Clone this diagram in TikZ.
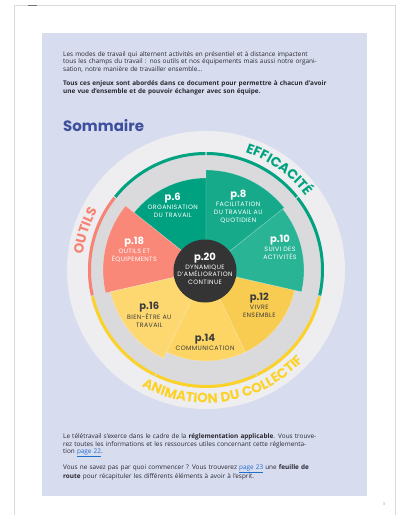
\documentclass[tikz,border=0pt]{standalone}
\usepackage{fontspec}
\setmainfont{Open Sans}
\newfontfamily\wheelfont{Poppins}
\newfontfamily\wheelcaps{Poppins}[LetterSpace=6]
\newfontfamily\ringface{Poppins}[LetterSpace=5]
\usetikzlibrary{positioning,decorations.text}

\definecolor{panelblue}{RGB}{216,220,239}
\definecolor{pageedge}{RGB}{218,218,220}
\definecolor{bodygrey}{RGB}{40,40,48}
\definecolor{linkblue}{RGB}{30,110,205}
\definecolor{titleblue}{RGB}{61,79,157}
\definecolor{outerring}{RGB}{238,238,241}
\definecolor{greydisc}{RGB}{218,218,221}
\definecolor{hubgrey}{RGB}{52,52,52}
\definecolor{labelgrey}{RGB}{60,60,60}
\definecolor{teal1}{RGB}{0,161,129}
\definecolor{teal2}{RGB}{22,170,139}
\definecolor{teal3}{RGB}{42,180,150}
\definecolor{salmon}{RGB}{250,136,121}
\definecolor{yel1}{RGB}{253,216,112}
\definecolor{yel2}{RGB}{252,213,101}
\definecolor{yel3}{RGB}{248,204,80}
\definecolor{ringgreen}{RGB}{0,163,128}
\definecolor{ringsalmon}{RGB}{248,130,115}
\definecolor{ringyellow}{RGB}{252,210,40}

\newcommand\jl[1]{\makebox[\linewidth][s]{#1}\\}
\newcommand\pagelink[1]{\textcolor{linkblue}{\underline{#1}}}
\newcommand\ringfont{\ringface\bfseries\fontsize{13.5}{13.5}\selectfont}

\tikzset{
    body text/.style={
        font=\fontsize{6.4}{7.6}\selectfont,
        text=bodygrey,
        text width=285pt,
        align=left,
        inner sep=0pt,
        anchor=base west,
    },
    wedge/.style={
        draw=white,
        draw opacity=0.35,
        line width=0.4pt,
    },
    ring arc/.style={
        line width=3pt,
    },
    ring text/.style={
        decorate,
        decoration={text along path, text align=center, text={#1}},
    },
    num label/.style={
        font=\wheelfont\bfseries\fontsize{10}{10}\selectfont,
        inner sep=0.5pt,
    },
    sect label/.style={
        font=\wheelcaps\fontsize{6.3}{8}\selectfont,
        align=center,
        inner sep=0.5pt,
    },
    on teal/.style={text=white},
    on yellow/.style={text=labelgrey},
    hub/.style={
        circle,
        fill=hubgrey,
        minimum size=63pt,
        inner sep=0pt,
    },
}

\begin{document}
\begin{tikzpicture}[x=1pt,y=-1pt]
    \useasboundingbox (0,0) rectangle (400,515);
    \fill[white] (0,0) rectangle (400,515);
    % page and panel
    \draw[pageedge,line width=1pt] (14,515) -- (14,5) -- (395,5) -- (395,515);
    \draw[black!55,line width=0.8pt] (28,5) -- (37,5);
    \fill[panelblue] (42,33) rectangle (367,496);
    \node[body text] (intro) at (63,56) {%
        \jl{Les modes de travail qui alternent activités en présentiel et à distance impactent}
        \jl{tous les champs du travail : nos outils et nos équipements mais aussi notre organi-}
        sation, notre manière de travailler ensemble…};
    \node[body text,font=\bfseries\fontsize{6.4}{7.8}\selectfont] (enjeux) at (63,85.5) {%
        \jl{Tous ces enjeux sont abordés dans ce document pour permettre à chacun d’avoir}
        une vue d’ensemble et de pouvoir échanger avec son équipe.};
    \node[anchor=base west,inner sep=0pt,text=titleblue,
        font=\wheelfont\bfseries\fontsize{15}{15}\selectfont] (sommaire) at (63,131) {Sommaire};
    % wheel
    \begin{scope}[shift={(206,270)},y=1pt]
        \fill[outerring] (0,0) circle[radius=139];
        \fill[greydisc] (0,0) circle[radius=118];
        \foreach \a/\r/\c/\k [evaluate=\a as \b using \a+51.43] in
            {90/92/teal1/ringgreen, 141.43/103/salmon/ringsalmon, 192.86/98/yel1/ringyellow,
             244.29/91/yel2/ringyellow, 295.71/91/yel3/ringyellow, 347.14/98/teal3/ringgreen,
             38.57/100/teal2/ringgreen}{
            \fill[\c,wedge] (0,0) -- (\a:\r) arc[start angle=\a, end angle=\b, radius=\r] -- cycle;
            \draw[\k,ring arc] (\a+0.3:116.5) arc[start angle=\a+0.3, end angle=\b-0.3, radius=116.5];
        }
        \path[ring text={|\ringfont\color{ringsalmon}|OUTILS}] (200:124) arc[start angle=200, end angle=124, radius=124];
        \path[ring text={|\ringfont\color{ringgreen}|EFFICACITÉ}] (100:124) arc[start angle=100, end angle=8, radius=124];
        \path[ring text={|\ringfont\color{ringyellow}|ANIMATION DU COLLECTIF}] (-150:133) arc[start angle=-150, end angle=-12, radius=133];
    \end{scope}
    \node[hub] (p20) at (205,271) {};
    \node[sect label,on teal,font=\wheelcaps\fontsize{6.3}{7.4}\selectfont] (l20) at (205,274.5)
        {DYNAMIQUE\\D’AMÉLIORATION\\CONTINUE};
    \node[num label,on teal,above=0.5pt of l20] (n20) {p.20};
    % sections
    \node[sect label,on teal] (l6) at (172.7,211.7) {ORGANISATION\\DU TRAVAIL};
    \node[num label,on teal,above=0.5pt of l6] (n6) {p.6};
    \node[sect label,on teal] (l8) at (238.3,212.7) {FACILITATION\\DU TRAVAIL AU\\QUOTIDIEN};
    \node[num label,on teal,above=0.5pt of l8] (n8) {p.8};
    \node[sect label,on teal] (l10) at (280,253.3) {SUIVI DES\\ACTIVITÉS};
    \node[num label,on teal,above=0.5pt of l10] (n10) {p.10};
    \node[sect label,on yellow] (l12) at (259.3,311.7) {VIVRE\\ENSEMBLE};
    \node[num label,on yellow,above=0.5pt of l12] (n12) {p.12};
    \node[sect label,on yellow] (l14) at (205,348.3) {COMMUNICATION};
    \node[num label,on yellow,above=0.5pt of l14] (n14) {p.14};
    \node[sect label,on yellow] (l16) at (149.3,320.8) {BIEN-ÊTRE AU\\TRAVAIL};
    \node[num label,on yellow,above=0.5pt of l16] (n16) {p.16};
    \node[sect label,on teal] (l18) at (134.3,255.8) {OUTILS ET\\ÉQUIPEMENTS};
    \node[num label,on teal,above=0.5pt of l18] (n18) {p.18};
    % bottom text
    \node[body text] (cadre) at (63,438.5) {%
        \jl{Le télétravail s’exerce dans le cadre de la \textbf{réglementation applicable}. Vous trouve-}
        \jl{rez toutes les informations et les ressources utiles concernant cette réglementa-}
        tion \pagelink{page 22}.};
    \node[body text] (route) at (63,469) {%
        \jl{Vous ne savez pas par quoi commencer ? Vous trouverez \pagelink{page 23} une \textbf{feuille de}}
        \textbf{route} pour récapituler les différents éléments à avoir à l’esprit.};
    \node[inner sep=0pt,text=black!40,font=\fontsize{4}{4}\selectfont] (pagenum) at (384,504) {3};
\end{tikzpicture}
\end{document}
